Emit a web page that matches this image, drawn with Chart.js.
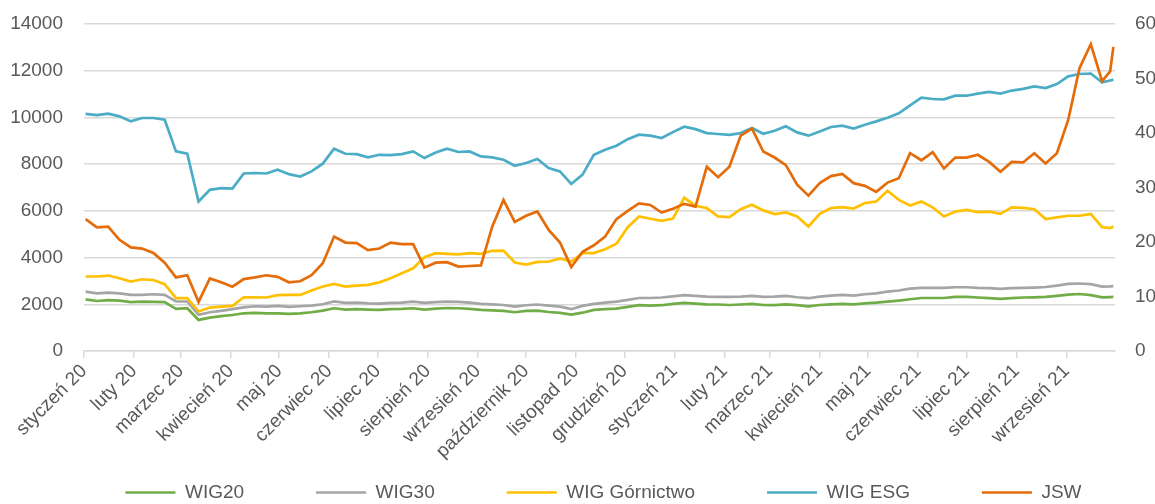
<!DOCTYPE html>
<html><head><meta charset="utf-8">
<script src="https://cdn.jsdelivr.net/npm/chart.js@4.4.0/dist/chart.umd.min.js"></script>
<style>html,body{margin:0;padding:0;background:#fff;}canvas{display:block;}</style>
</head><body>
<canvas id="c" width="1155" height="504"></canvas>
<script>
// Dates (weekly samples)
const dates = [
'2020-01-02','2020-01-09','2020-01-16','2020-01-23','2020-01-30',
'2020-02-06','2020-02-13','2020-02-20','2020-02-27',
'2020-03-05','2020-03-12','2020-03-19','2020-03-26',
'2020-04-02','2020-04-09','2020-04-16','2020-04-23','2020-04-30',
'2020-05-07','2020-05-14','2020-05-21','2020-05-28',
'2020-06-04','2020-06-11','2020-06-18','2020-06-25',
'2020-07-02','2020-07-09','2020-07-16','2020-07-23','2020-07-30',
'2020-08-06','2020-08-13','2020-08-20','2020-08-27',
'2020-09-03','2020-09-10','2020-09-17','2020-09-24',
'2020-10-01','2020-10-08','2020-10-15','2020-10-22','2020-10-29',
'2020-11-05','2020-11-12','2020-11-19','2020-11-26',
'2020-12-03','2020-12-10','2020-12-17','2020-12-24','2020-12-31',
'2021-01-07','2021-01-14','2021-01-21','2021-01-28',
'2021-02-04','2021-02-11','2021-02-18','2021-02-25',
'2021-03-04','2021-03-11','2021-03-18','2021-03-25',
'2021-04-01','2021-04-08','2021-04-15','2021-04-22','2021-04-29',
'2021-05-06','2021-05-13','2021-05-20','2021-05-27',
'2021-06-03','2021-06-10','2021-06-17','2021-06-24',
'2021-07-01','2021-07-08','2021-07-15','2021-07-22','2021-07-29',
'2021-08-05','2021-08-12','2021-08-19','2021-08-26',
'2021-09-02','2021-09-09','2021-09-16','2021-09-23','2021-09-28','2021-09-30'
];

const wig20 = [
2210,2140,2180,2160,2090,2115,2100,2090,1800,1830,1330,1430,1490,
1540,1615,1630,1615,1615,1590,1615,1660,1730,1830,1770,1790,1770,
1760,1790,1800,1830,1770,1815,1840,1830,1800,1760,1740,1715,1660,
1715,1730,1670,1630,1560,1640,1760,1790,1815,1890,1960,1940,1960,2015,
2060,2030,2000,1990,1970,1990,2015,1970,1960,2000,1960,1915,
1970,2000,2015,2000,2040,2070,2115,2160,2215,2270,2270,2270,2315,
2315,2290,2260,2230,2260,2290,2300,2315,2360,2415,2440,2390,2300,2310,2315
];

const wig30 = [
2540,2470,2500,2470,2400,2400,2430,2400,2120,2120,1550,1660,1720,
1790,1870,1915,1900,1930,1890,1915,1940,2000,2120,2060,2070,2040,
2030,2060,2070,2115,2060,2090,2115,2100,2070,2015,2000,1970,1900,
1960,1990,1940,1900,1790,1930,2015,2070,2115,2190,2270,2270,2290,2340,
2390,2360,2330,2315,2315,2330,2360,2315,2330,2360,2300,2260,
2330,2370,2400,2370,2430,2470,2540,2590,2670,2700,2700,2700,2730,
2730,2700,2690,2660,2690,2700,2715,2740,2800,2870,2890,2860,2760,2770,2780
];

const wigGornictwo = [
3190,3190,3230,3115,2970,3070,3040,2860,2260,2260,1690,1860,1900,
1930,2300,2300,2290,2390,2400,2400,2590,2760,2870,2760,2800,2830,
2940,3115,3330,3540,4015,4190,4160,4140,4190,4160,4290,4300,3790,
3700,3815,3830,3960,3830,4190,4190,4360,4590,5300,5760,5660,5570,5670,
6560,6220,6120,5760,5730,6070,6260,6020,5860,5930,5760,5330,
5870,6120,6160,6100,6330,6400,6860,6470,6230,6400,6150,5760,5970,
6040,5950,5970,5870,6150,6130,6070,5650,5720,5790,5790,5870,5300,5260,5330
];

const wigEsg = [
10150,10100,10160,10045,9830,9975,9975,9900,8545,8450,6400,6900,6975,
6950,7600,7620,7600,7760,7570,7470,7690,8020,8660,8445,8430,8290,
8400,8390,8430,8545,8260,8500,8660,8520,8545,8330,8290,8190,7930,
8050,8220,7830,7690,7150,7550,8400,8620,8790,9070,9260,9220,9120,9370,
9600,9500,9330,9290,9250,9330,9550,9300,9430,9620,9360,9220,
9400,9590,9650,9520,9690,9830,9990,10175,10520,10850,10790,10775,10930,
10930,11020,11090,11020,11150,11220,11330,11260,11430,11760,11860,11880,11500,11580,11620
];

const jsw = [
24.2,22.7,22.8,20.4,19.0,18.8,18.0,16.2,13.5,13.9,9.0,13.3,12.6,
11.8,13.2,13.5,13.9,13.6,12.6,12.8,13.9,16.1,21.0,19.9,19.8,18.5,
18.8,19.9,19.6,19.6,15.3,16.2,16.3,15.5,15.6,15.7,22.8,27.7,23.7,
24.8,25.6,22.2,19.9,15.4,18.2,19.4,21.0,24.2,25.7,27.1,26.8,25.4,26.1,
27.0,26.5,33.8,31.9,33.8,39.5,40.8,36.6,35.5,34.1,30.5,28.5,
30.8,32.1,32.5,30.8,30.3,29.2,30.9,31.7,36.3,35.0,36.5,33.5,35.5,
35.5,36.0,34.7,32.9,34.7,34.6,36.3,34.4,36.3,42.4,51.9,56.3,49.5,51.3,55.8
];

const seriesNames = ['WIG20','WIG30','WIG Górnictwo','WIG ESG','JSW'];
const seriesColors = ['#70AD47','#A5A5A5','#FFC000','#4BACC6','#E46C0A'];

const monthTicks = ['2020-01-01','2020-02-01','2020-03-01','2020-04-01','2020-05-01','2020-06-01',
'2020-07-01','2020-08-01','2020-09-01','2020-10-01','2020-11-01','2020-12-01',
'2021-01-01','2021-02-01','2021-03-01','2021-04-01','2021-05-01','2021-06-01',
'2021-07-01','2021-08-01','2021-09-01'];
const monthLabels = ['styczeń 20','luty 20','marzec 20','kwiecień 20','maj 20','czerwiec 20',
'lipiec 20','sierpień 20','wrzesień 20','październik 20','listopad 20','grudzień 20',
'styczeń 21','luty 21','marzec 21','kwiecień 21','maj 21','czerwiec 21',
'lipiec 21','sierpień 21','wrzesień 21'];
const axisStart = '2020-01-01';
const axisEnd = '2021-10-01';

const dayOf = s => (Date.parse(s + 'T00:00:00Z') - Date.parse(axisStart + 'T00:00:00Z')) / 864e5;
const xs = dates.map(dayOf);
const toPts = arr => arr.map((v, i) => ({x: xs[i], y: v}));

const FONT = "'Liberation Sans',Arial,sans-serif";
const FS = 19;
const TXT = '#595959';
const GRID = '#D9D9D9';
const CLEAR = 'rgba(0,0,0,0)';

const allSeries = [wig20, wig30, wigGornictwo, wigEsg, jsw];
const datasets = allSeries.map((arr, i) => ({
  label: seriesNames[i],
  data: toPts(arr),
  borderColor: seriesColors[i],
  backgroundColor: seriesColors[i],
  borderWidth: 2.7,
  pointRadius: 0,
  tension: 0,
  fill: false,
  yAxisID: i === 4 ? 'y2' : 'y',
  order: 4 - i
}));

const noClip = s => { s._computeLabelArea = () => undefined; };

new Chart(document.getElementById('c'), {
  type: 'line',
  data: { datasets },
  options: {
    responsive: false,
    animation: false,
    events: [],
    layout: { padding: { top: 24, left: 52, right: 0, bottom: 0 } },
    plugins: {
      tooltip: { enabled: false },
      legend: {
        position: 'bottom',
        maxHeight: 93,
        labels: {
          usePointStyle: true,
          pointStyle: 'line',
          pointStyleWidth: 50,
          padding: 72,
          color: TXT,
          font: { family: FONT, size: FS },
          sort: (a, b) => a.datasetIndex - b.datasetIndex
        }
      }
    },
    scales: {
      x: {
        type: 'linear',
        min: dayOf(axisStart),
        max: dayOf(axisEnd),
        afterFit: s => { s.height = 60; noClip(s); },
        afterBuildTicks: s => { s.ticks = monthTicks.map(d => ({ value: dayOf(d) })); },
        grid: { display: true, drawOnChartArea: false, drawTicks: true, tickLength: 7, color: GRID, lineWidth: 1.5 },
        border: { display: true, color: GRID, width: 1.5 },
        ticks: {
          autoSkip: false, minRotation: 45, maxRotation: 45, padding: 2,
          color: TXT, font: { family: FONT, size: FS },
          callback: (v, i) => monthLabels[i]
        }
      },
      y: {
        position: 'left',
        min: 0, max: 14000,
        afterFit: s => { s.width = 32; noClip(s); },
        grid: { color: GRID, lineWidth: 1.5, drawTicks: true, tickLength: 21, tickColor: CLEAR },
        border: { display: false },
        ticks: { stepSize: 2000, padding: 0, color: TXT, font: { family: FONT, size: FS },
                 callback: v => String(v) }
      },
      y2: {
        position: 'right',
        min: 0, max: 60,
        afterFit: s => { s.width = 40; },
        grid: { display: true, drawOnChartArea: false, drawTicks: true, tickLength: 20, tickColor: CLEAR, color: CLEAR },
        border: { display: false },
        ticks: { stepSize: 10, padding: 0, color: TXT, font: { family: FONT, size: FS },
                 callback: v => String(v) }
      }
    }
  }
});
</script>
</body></html>
